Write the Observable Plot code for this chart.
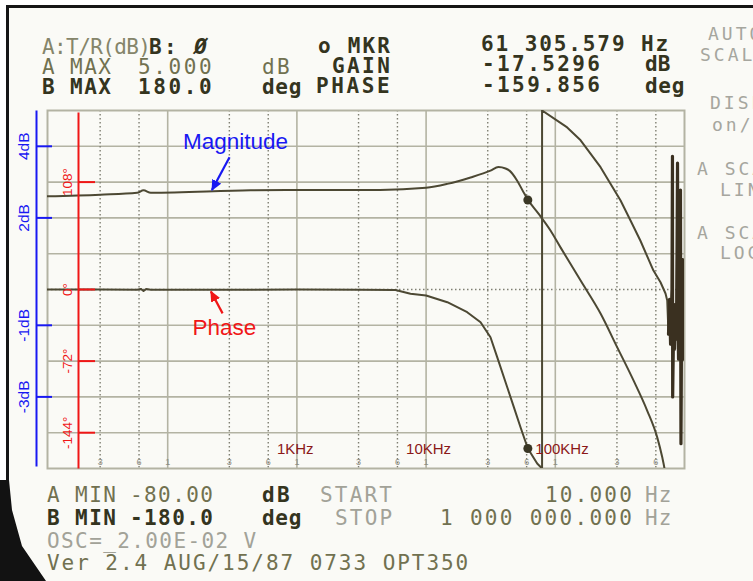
<!DOCTYPE html>
<html>
<head>
<meta charset="utf-8">
<script src="https://cdn.jsdelivr.net/npm/d3@7"></script>
<script src="https://cdn.jsdelivr.net/npm/@observablehq/plot@0.6"></script>
<style>
  html, body { margin: 0; padding: 0; background: #ffffff; }
  #wrap { position: relative; width: 753px; height: 581px; overflow: hidden; background: #ffffff; }
  #panel { position: absolute; left: 6px; top: 5px; width: 747px; height: 576px; background: #fafaf6;
           border-left: 3px solid #151515; border-top: 3px solid #151515; box-sizing: border-box; }
  #wedge { position: absolute; left: 0; top: 480px; width: 50px; height: 101px; background: #121212;
           clip-path: polygon(0 0, 9px 0, 12px 30px, 22px 66px, 46px 101px, 0 101px); }
  #chart { position: absolute; left: 0; top: 0; }
  .t { position: absolute; font-family: "DejaVu Sans Mono", monospace; font-size: 21px; line-height: 18px;
       white-space: pre; color: #6e6e4a; }
  .m { color: #717150; }
  .a { color: #85856a; }
  .d { color: #34341e; font-weight: bold; }
  .l { color: #a2a298; }
  .r { font-size: 18px; line-height: 18px; color: #a6a69e; letter-spacing: 3px; }
</style>
</head>
<body>
<div id="wrap">
  <div id="panel"></div>
  <div id="wedge"></div>
  <div id="chart"></div>

  <!-- instrument read-outs (header) -->
  <span class="t a" style="left:42px;top:38px;letter-spacing:-0.6px">A:T/R(dB)</span>
  <span class="t d" style="left:149px;top:38px;letter-spacing:2.4px">B: <i>Ø</i></span>
  <span class="t d" style="left:318px;top:36.5px;letter-spacing:2.2px">o MKR</span>
  <span class="t d" style="left:481px;top:34.5px;letter-spacing:1.9px">61 305.579 Hz</span>

  <span class="t m" style="left:42px;top:58px;letter-spacing:1.4px">A MAX</span>
  <span class="t m" style="left:138px;top:58px;letter-spacing:2.6px">5.000</span>
  <span class="t m" style="left:262px;top:58px;letter-spacing:2.4px">dB</span>
  <span class="t d" style="left:332px;top:56.5px;letter-spacing:2.4px">GAIN</span>
  <span class="t d" style="left:482px;top:54.5px;letter-spacing:2.4px">-17.5296</span>
  <span class="t d" style="left:645px;top:54.5px;letter-spacing:0px">dB</span>

  <span class="t d" style="left:42px;top:78px;letter-spacing:1.4px">B MAX</span>
  <span class="t d" style="left:138px;top:78px;letter-spacing:2.6px">180.0</span>
  <span class="t d" style="left:262px;top:78px;letter-spacing:0.7px">deg</span>
  <span class="t d" style="left:316px;top:76.5px;letter-spacing:2.6px">PHASE</span>
  <span class="t d" style="left:482px;top:75.5px;letter-spacing:2.4px">-159.856</span>
  <span class="t d" style="left:645px;top:76.5px;letter-spacing:0.7px">deg</span>

  <!-- soft-key menu (right edge, cut off by the photo) -->
  <span class="t r" style="left:708px;top:25px">AUTO</span>
  <span class="t r" style="left:700px;top:46px">SCALE</span>
  <span class="t r" style="left:710px;top:94px">DISP</span>
  <span class="t r" style="left:712px;top:116px">on/off</span>
  <span class="t r" style="left:697px;top:160px">A SCALE</span>
  <span class="t r" style="left:720px;top:181px">LIN</span>
  <span class="t r" style="left:697px;top:224px">A SCALE</span>
  <span class="t r" style="left:720px;top:244px">LOG</span>

  <!-- instrument read-outs (footer) -->
  <span class="t m" style="left:47px;top:486px;letter-spacing:1.4px">A MIN</span>
  <span class="t m" style="left:130px;top:486px;letter-spacing:1.4px">-80.00</span>
  <span class="t d" style="left:262px;top:486px;letter-spacing:2.4px">dB</span>
  <span class="t l" style="left:320px;top:486px;letter-spacing:2.2px">START</span>
  <span class="t m" style="left:545px;top:486px;letter-spacing:2.2px">10.000</span>
  <span class="t l" style="left:645px;top:486px;letter-spacing:1px">Hz</span>

  <span class="t d" style="left:47px;top:509px;letter-spacing:1.4px">B MIN</span>
  <span class="t d" style="left:130px;top:509px;letter-spacing:1.4px">-180.0</span>
  <span class="t d" style="left:262px;top:509px;letter-spacing:0.7px">deg</span>
  <span class="t l" style="left:335px;top:509px;letter-spacing:2.2px">STOP</span>
  <span class="t m" style="left:440px;top:509px;letter-spacing:2.3px">1 000 000.000</span>
  <span class="t l" style="left:645px;top:509px;letter-spacing:1px">Hz</span>

  <span class="t l" style="left:47px;top:532px;letter-spacing:1.4px">OSC=_2.00E-02 V</span>
  <span class="t m" style="left:47px;top:554px;letter-spacing:1.95px">Ver 2.4 AUG/15/87 0733 OPT350</span>
</div>

<script>
// ---------------- data ----------------
const sweepHz = [10, 1e6];                 // START 10.000 Hz, STOP 1 000 000.000 Hz
const phaseScaleDeg = [-180, 180];         // B MIN / B MAX
const degPerDb = 36;                       // hand-drawn dB axis: 1 dB per division, a division = 36°

// Magnitude trace (dB on the hand-drawn blue axis)
const magFreqHz = [10, 30, 58, 65, 74, 438, 1000, 4400, 10000, 14600, 22100, 31500, 36300, 41200, 44200,
  50700, 56700, 61306, 74100, 91800, 110000, 157000, 224000, 301000, 403000, 514000, 615000, 672000, 700000, 720000];
const magDb = [2.60, 2.65, 2.70, 2.77, 2.70, 2.77, 2.78, 2.78, 2.84, 2.95, 3.13, 3.32, 3.42, 3.38, 3.32,
  3.04, 2.72, 2.51, 2.12, 1.65, 1.17, 0.25, -0.67, -1.61, -2.54, -3.38, -4.13, -4.68, -5.0, -5.3];

// Phase trace (degrees), wraps from -180 to +180 near 79 kHz, noisy near 1 MHz
const phaseFreqHz = [10, 30, 58, 62, 65, 68, 74, 200, 1000, 3000, 5800, 7570, 10000, 14600, 20800, 26400,
  31500, 35500, 42400, 47700, 53800, 61306, 72400, 79000, 79000, 123600, 157000, 224000, 320000, 382000,
  456000, 575000, 652000, 713000, 735000, 752000, 766000, 780000, 800000, 807000, 810000, 822000, 837000,
  851000, 867000, 883000, 891000, 899000, 914000, 931000, 939000, 948000, 966000, 982000, 990000];
const phaseDeg = [0, 0, -0.3, 0.6, -1.5, 0.4, -0.3, -0.3, 0, -0.3, -0.5, -4.3, -6, -12.8, -22.8, -33,
  -48, -68, -98, -118, -138.5, -159.9, -175, -180, 180, 163, 150, 123, 89.5, 69.4,
  49, 19, 7.3, -4, -11, -45, -10, -55, 0, 134, -108, -40, -60,
  -15, -50, 127, -30, -70, -20, 100, -155, -45, 30, -70, -40];
const noiseFromHz = 740000;

// Marker (o MKR)
const markerHz = [61305.579];
const markerGainDb = [2.5];
const markerPhaseDeg = [-159.856];

// Graticule
const decadeHz = [100, 1000, 10000, 100000];
const subDecadeHz = [30, 60, 300, 600, 3000, 6000, 30000, 60000, 300000, 600000];
const divisionDeg = [-144, -108, -72, -36, 36, 72, 108, 144];
const centerDeg = [0];

// Hand-drawn annotation axes and labels
const dbTicks = [4, 2, -1, -3];
const phaseTicks = [108, 0, -72, -144];
const freqLabelHz = [1000, 10000, 100000];
const freqLabelText = ["1KHz", "10KHz", "100KHz"];
const calloutText = ["Magnitude", "Phase"];

// ---------------- build ----------------
const magnitude = magFreqHz.map((f, i) => ({f, db: magDb[i]}));
const phase = phaseFreqHz.map((f, i) => ({f, deg: phaseDeg[i]}));
const markers = markerHz.map((f, i) => ({f, db: markerGainDb[i], deg: markerPhaseDeg[i]}));
const freqLabels = freqLabelHz.map((f, i) => ({f, text: freqLabelText[i]}));
const gridDigits = [...subDecadeHz, ...decadeHz].sort((a, b) => a - b);

const traceColor = "#4c4833";
const gridColor = "#b3b3a3";
const dotColor = "#7f7f72";
const blue = "#1818f2";
const red = "#f01616";

const callouts = [
  {label: calloutText[0], f: 335, v: 148.8, color: blue, arrow: {f1: 301, v1: 133, f2: 220, v2: 100}},
  {label: calloutText[1], f: 275, v: -38.2, color: red, arrow: {f1: 266, v1: -24, f2: 216, v2: -2}}
];

function filledHead(color) {
  return d3.create("svg:marker")
    .attr("viewBox", "-10 -5 12 10")
    .attr("markerWidth", 12).attr("markerHeight", 10)
    .attr("markerUnits", "userSpaceOnUse")
    .attr("orient", "auto")
    .attr("fill", color).attr("stroke", "none")
    .call(m => m.append("path").attr("d", "M-10,-5L1,0L-10,5Z"))
    .node();
}

const chart = Plot.plot({
  width: 753,
  height: 581,
  marginLeft: 47,
  marginRight: 69,
  marginTop: 110,
  marginBottom: 113,
  x: {type: "log", domain: sweepHz, range: [38, 684], axis: null},
  y: {domain: phaseScaleDeg, axis: null},
  style: {background: "transparent", fontFamily: "'Liberation Sans', Arial, sans-serif", overflow: "visible"},
  marks: [
    Plot.ruleY(divisionDeg, {stroke: gridColor, strokeWidth: 1.6}),
    Plot.ruleY(centerDeg, {stroke: dotColor, strokeWidth: 1.4, strokeDasharray: "1.5,2.5"}),
    Plot.ruleX(decadeHz, {stroke: gridColor, strokeWidth: 1.6}),
    Plot.ruleX(subDecadeHz, {stroke: dotColor, strokeWidth: 1.4, strokeDasharray: "1.5,2.5"}),
    Plot.frame({stroke: gridColor, strokeWidth: 2}),
    Plot.text(gridDigits, {x: d => d, text: d => String(d)[0], frameAnchor: "bottom", dy: -4,
      fontSize: 9, fill: "#8d8d82"}),

    // traces
    Plot.line(magnitude, {x: "f", y: d => d.db * degPerDb, stroke: traceColor, strokeWidth: 2,
      curve: "monotone-x", clip: true}),
    Plot.line(phase, {x: "f", y: "deg", stroke: traceColor, strokeWidth: 2, clip: true}),
    Plot.line(phase.filter(d => d.f >= noiseFromHz), {x: "f", y: "deg", stroke: "#3a3020",
      strokeWidth: 3.2, clip: true}),
    Plot.dot(markers, {x: "f", y: d => d.db * degPerDb, r: 4.5, fill: "#3a3725"}),
    Plot.dot(markers, {x: "f", y: "deg", r: 4.5, fill: "#3a3725"}),

    // frequency labels
    Plot.text(freqLabels, {x: "f", text: "text", frameAnchor: "bottom", dy: -15, dx: -20,
      textAnchor: "start", fill: "#8b1818", fontSize: 15}),

    // hand-drawn blue dB axis
    Plot.frame({anchor: "left", stroke: blue, strokeWidth: 2, dx: -11, insetTop: 1, insetBottom: 3}),
    Plot.axisY(dbTicks.map(d => d * degPerDb), {anchor: "left", tickSize: -16, dx: -11,
      stroke: blue, fill: "none", strokeWidth: 2, label: null}),
    Plot.text(dbTicks, {y: d => d * degPerDb, text: d => `${d}dB`, frameAnchor: "left", dx: -23,
      rotate: -90, textAnchor: "middle", lineAnchor: "middle", fontSize: 15.5, fill: blue}),

    // hand-drawn red phase axis
    Plot.frame({anchor: "left", stroke: red, strokeWidth: 2, dx: 31, insetTop: 3, insetBottom: 1}),
    Plot.axisY(phaseTicks, {anchor: "left", tickSize: -17, dx: 31,
      stroke: red, fill: "none", strokeWidth: 2, label: null}),
    Plot.text(phaseTicks, {y: d => d, text: d => `${d}°`, frameAnchor: "left", dx: 20,
      rotate: -90, textAnchor: "middle", lineAnchor: "middle", fontSize: 13.5, fill: red}),

    // callouts
    Plot.text(callouts, {x: "f", y: "v", text: "label", fill: d => d.color, fontSize: 22.5}),
    Plot.link(callouts.filter(d => d.color === blue), {x1: d => d.arrow.f1, y1: d => d.arrow.v1,
      x2: d => d.arrow.f2, y2: d => d.arrow.v2, stroke: blue, strokeWidth: 2.2, markerEnd: filledHead}),
    Plot.link(callouts.filter(d => d.color === red), {x1: d => d.arrow.f1, y1: d => d.arrow.v1,
      x2: d => d.arrow.f2, y2: d => d.arrow.v2, stroke: red, strokeWidth: 2.2, markerEnd: filledHead})
  ]
});
document.getElementById("chart").append(chart);
</script>
</body>
</html>
